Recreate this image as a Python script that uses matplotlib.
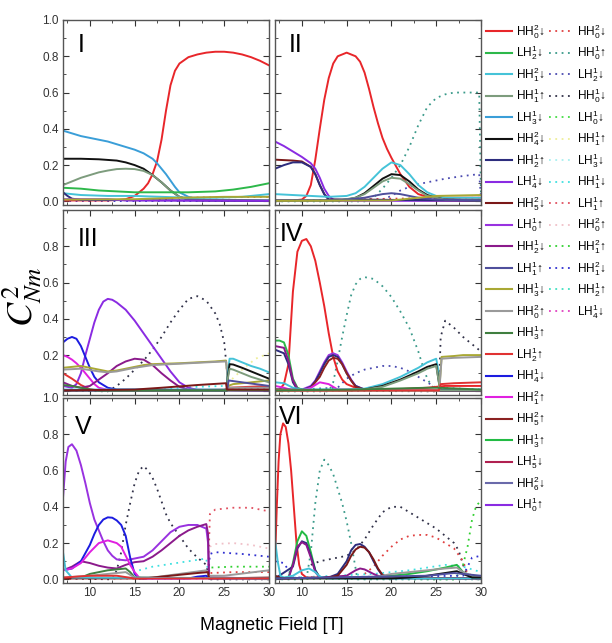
import matplotlib.pyplot as plt
from matplotlib.lines import Line2D

plt.rcParams['font.family'] = ['Liberation Sans', 'DejaVu Sans']
plt.rcParams['mathtext.fontset'] = 'custom'
plt.rcParams['mathtext.rm'] = 'Liberation Sans'
plt.rcParams['mathtext.it'] = 'Liberation Sans:italic'
plt.rcParams['mathtext.bf'] = 'Liberation Sans:bold'

# Legend states, solid column and dotted column.
solid_labels = [
    r'HH$_0^2$↓', r'LH$_2^1$↓', r'HH$_1^2$↓', r'HH$_1^1$↑', r'LH$_3^1$↓',
    r'HH$_4^2$↓', r'HH$_2^1$↑', r'LH$_4^1$↓', r'HH$_5^2$↓', r'LH$_0^1$↑',
    r'HH$_2^1$↓', r'LH$_1^1$↑', r'HH$_3^1$↓', r'HH$_0^2$↑', r'HH$_3^1$↑',
    r'LH$_2^1$↑', r'HH$_4^1$↓', r'HH$_1^2$↑', r'HH$_5^2$↑', r'HH$_3^1$↑',
    r'LH$_5^1$↓', r'HH$_6^2$↓', r'LH$_0^1$↑',
]
solid_colors = [
    '#e8262a', '#2db84a', '#45c3d8', '#7d9c7d', '#3a9ed8',
    '#111111', '#2d2d7e', '#8a2be2', '#7a1818', '#9932e0',
    '#8b1a8b', '#4f4f9c', '#a9a834', '#9a9a9a', '#3f7f3f',
    '#e03232', '#1c1ce0', '#e020e0', '#8b2222', '#22bb44',
    '#b02050', '#6a6aaa', '#8a2be2',
]
dotted_labels = [
    r'HH$_0^2$↓', r'HH$_0^1$↑', r'LH$_2^1$↓', r'HH$_0^1$↓', r'LH$_0^1$↓',
    r'HH$_1^1$↑', r'LH$_3^1$↓', r'HH$_1^1$↓', r'LH$_1^1$↑', r'HH$_0^2$↑',
    r'HH$_1^2$↑', r'HH$_1^2$↓', r'HH$_2^1$↑', r'LH$_4^1$↓',
]
dotted_colors = [
    '#e04040', '#3a9a8a', '#4a4ab0', '#303048', '#44dd44',
    '#eeee99', '#a8f0f0', '#40e0e0', '#e05060', '#f0c0c8',
    '#30d030', '#3030d0', '#40e0c0', '#e040c0',
]

# Panel curves: {state index: (field [T], C^2_Nm)}
I_solid = {
    0: ([7, 12, 13, 14, 15, 16, 16.5, 17, 17.5, 18, 18.5, 19, 19.5, 20, 21, 22, 23, 24, 25, 26, 27, 28, 29, 30],
        [0.005, 0.005, 0.008, 0.012, 0.03, 0.07, 0.1, 0.15, 0.22, 0.34, 0.5, 0.64, 0.72, 0.76, 0.795, 0.81, 0.82, 0.825, 0.825, 0.82, 0.81, 0.795, 0.775, 0.75]),
    4: ([7, 8, 9, 10, 11, 12, 13, 14, 15, 16, 17, 17.5, 18, 18.5, 19, 19.5, 20, 21, 22, 23, 30],
        [0.39, 0.375, 0.36, 0.35, 0.34, 0.33, 0.315, 0.3, 0.285, 0.265, 0.235, 0.21, 0.18, 0.15, 0.115, 0.08, 0.05, 0.025, 0.012, 0.008, 0.005]),
    5: ([7, 9, 11, 13, 14, 15, 16, 17, 18, 19, 20, 21, 22, 30],
        [0.235, 0.235, 0.232, 0.225, 0.215, 0.2, 0.18, 0.145, 0.105, 0.06, 0.025, 0.012, 0.006, 0.003]),
    3: ([7, 8, 9, 10, 11, 12, 13, 14, 15, 16, 17, 18, 19, 20, 21, 30],
        [0.09, 0.11, 0.13, 0.145, 0.16, 0.17, 0.178, 0.18, 0.178, 0.168, 0.145, 0.105, 0.06, 0.025, 0.01, 0.004]),
    1: ([7, 9, 11, 13, 15, 18, 21, 24, 26, 28, 30],
        [0.075, 0.07, 0.06, 0.055, 0.05, 0.05, 0.05, 0.055, 0.065, 0.08, 0.1]),
    2: ([7, 9, 12, 15, 18, 21, 24, 27, 30],
        [0.045, 0.035, 0.03, 0.03, 0.025, 0.02, 0.02, 0.025, 0.04]),
    6: ([7, 7.5, 8, 9, 30], [0.05, 0.03, 0.015, 0.008, 0.003]),
    7: ([7, 12, 14, 30], [0.012, 0.012, 0.005, 0.003]),
    12: ([7, 15, 20, 25, 30], [0.01, 0.012, 0.02, 0.025, 0.025]),
}
I_dotted = {
    0: ([17, 20, 30], [0.005, 0.02, 0.025]),
    11: ([7, 30], [0.003, 0.003]),
}

II_solid = {
    0: ([7, 9, 10, 10.5, 11, 11.5, 12, 12.5, 13, 13.5, 14, 15, 16, 16.5, 17, 17.5, 18, 18.5, 19, 19.5, 20, 21, 22, 23, 24, 26, 30],
        [0.005, 0.005, 0.01, 0.03, 0.09, 0.23, 0.4, 0.56, 0.68, 0.76, 0.8, 0.82, 0.8, 0.77, 0.71, 0.62, 0.52, 0.43, 0.35, 0.29, 0.24, 0.15, 0.08, 0.04, 0.025, 0.02, 0.02]),
    7: ([7, 8, 9, 10, 11, 11.5, 12, 12.5, 13, 13.5, 14, 30],
        [0.33, 0.305, 0.275, 0.245, 0.21, 0.18, 0.13, 0.07, 0.03, 0.01, 0.003, 0.003]),
    8: ([7, 9, 10, 11, 11.5, 12, 12.5, 13, 30],
        [0.23, 0.225, 0.22, 0.19, 0.15, 0.09, 0.04, 0.01, 0.005]),
    6: ([7, 8, 9, 10, 11, 11.5, 12, 12.5, 13, 30],
        [0.18, 0.2, 0.215, 0.215, 0.19, 0.15, 0.09, 0.04, 0.01, 0.005]),
    2: ([7, 9, 11, 13, 15, 16, 17, 18, 19, 20, 21, 22, 23, 24, 25, 26, 30],
        [0.04, 0.035, 0.03, 0.025, 0.03, 0.045, 0.08, 0.13, 0.18, 0.215, 0.2, 0.15, 0.09, 0.05, 0.03, 0.02, 0.02]),
    5: ([7, 14, 15, 16, 17, 18, 19, 20, 21, 22, 23, 24, 25, 26, 30],
        [0.005, 0.005, 0.01, 0.02, 0.045, 0.085, 0.125, 0.15, 0.145, 0.11, 0.065, 0.035, 0.02, 0.01, 0.005]),
    3: ([7, 14, 16, 17, 18, 19, 20, 21, 22, 23, 24, 26, 30],
        [0.005, 0.005, 0.02, 0.04, 0.075, 0.11, 0.13, 0.125, 0.095, 0.06, 0.03, 0.01, 0.005]),
    11: ([7, 14, 17, 19, 20, 21, 23, 25, 30],
         [0.005, 0.005, 0.02, 0.04, 0.045, 0.04, 0.02, 0.01, 0.005]),
    12: ([7, 20, 23, 25, 30], [0.003, 0.005, 0.02, 0.03, 0.035]),
}
II_dotted = {
    1: ([7, 17, 18, 19, 20, 21, 22, 23, 24, 25, 26, 27, 28, 29, 29.8, 30],
        [0.0, 0.0, 0.02, 0.07, 0.13, 0.2, 0.3, 0.42, 0.52, 0.57, 0.59, 0.6, 0.6, 0.6, 0.6, 0.02]),
    2: ([7, 19, 20, 21, 22, 23, 24, 26, 28, 29.8, 30],
        [0.003, 0.01, 0.03, 0.06, 0.08, 0.095, 0.105, 0.125, 0.14, 0.15, 0.02]),
    0: ([12, 20, 30], [0.005, 0.015, 0.02]),
}

III_solid = {
    7: ([7, 8, 8.5, 9, 9.5, 10, 10.5, 11, 11.5, 12, 12.5, 13, 14, 15, 16, 17, 18, 19, 20, 21, 22, 30],
        [0.03, 0.02, 0.04, 0.1, 0.2, 0.29, 0.38, 0.45, 0.495, 0.51, 0.505, 0.49, 0.45, 0.39, 0.32, 0.25, 0.18, 0.11, 0.05, 0.02, 0.008, 0.005]),
    16: ([7, 7.5, 8, 8.5, 9, 9.5, 10, 10.5, 11, 12, 13, 30],
         [0.27, 0.29, 0.3, 0.29, 0.25, 0.19, 0.13, 0.08, 0.05, 0.02, 0.01, 0.005]),
    17: ([7, 7.5, 8, 8.5, 9, 9.5, 10, 10.5, 11, 12, 30],
         [0.2, 0.19, 0.175, 0.155, 0.13, 0.1, 0.07, 0.04, 0.02, 0.008, 0.005]),
    15: ([7, 8, 9, 10, 11, 20, 25, 25.5, 30],
         [0.1, 0.07, 0.035, 0.012, 0.005, 0.005, 0.01, 0.02, 0.03]),
    10: ([7, 8, 9, 10, 11, 12, 13, 14, 15, 16, 17, 18, 19, 20, 21, 30],
         [0.05, 0.03, 0.02, 0.03, 0.065, 0.1, 0.14, 0.165, 0.18, 0.175, 0.145, 0.1, 0.06, 0.025, 0.01, 0.005]),
    12: ([7, 8, 9, 10, 11, 12, 13, 14, 15, 16, 17, 18, 20, 22, 24, 25.2, 25.3, 25.4, 26, 28, 30],
         [0.13, 0.135, 0.14, 0.13, 0.12, 0.11, 0.115, 0.125, 0.135, 0.145, 0.15, 0.152, 0.155, 0.16, 0.165, 0.17, 0.12, 0.03, 0.04, 0.05, 0.06]),
    13: ([7, 9, 11, 12, 13, 15, 17, 19, 21, 23, 25.2, 25.3, 25.4, 30],
         [0.12, 0.125, 0.11, 0.105, 0.11, 0.13, 0.145, 0.15, 0.155, 0.16, 0.165, 0.12, 0.02, 0.02]),
    2: ([7, 24, 25.3, 25.4, 25.6, 26, 27, 28, 29, 30],
        [0.01, 0.01, 0.01, 0.1, 0.18, 0.18, 0.16, 0.14, 0.125, 0.105]),
    5: ([7, 25.3, 25.4, 25.6, 26, 27, 28, 29, 30],
        [0.005, 0.005, 0.08, 0.15, 0.148, 0.13, 0.11, 0.09, 0.07]),
    3: ([7, 25.3, 25.4, 25.6, 26, 27, 28, 29, 30],
        [0.005, 0.005, 0.07, 0.125, 0.12, 0.1, 0.08, 0.065, 0.05]),
    11: ([7, 25.3, 25.5, 27, 30], [0.005, 0.005, 0.06, 0.05, 0.03]),
    14: ([7, 8, 9, 10, 11, 30], [0.035, 0.03, 0.02, 0.01, 0.005, 0.005]),
    8: ([7, 15, 18, 22, 25.2, 25.3, 30], [0.005, 0.01, 0.02, 0.035, 0.045, 0.01, 0.01]),
}
III_dotted = {
    3: ([7, 12, 13, 14, 15, 16, 17, 18, 19, 20, 21, 22, 23, 24, 24.5, 25, 25.3, 25.5, 30],
        [0.005, 0.0, 0.03, 0.07, 0.12, 0.17, 0.23, 0.3, 0.38, 0.45, 0.51, 0.525, 0.5, 0.43, 0.37, 0.27, 0.12, 0.01, 0.01]),
    5: ([7, 25.3, 25.5, 27, 28.5, 30], [0.005, 0.005, 0.05, 0.12, 0.18, 0.21]),
    7: ([7, 18, 20, 22, 25, 25.3, 30], [0.005, 0.01, 0.02, 0.025, 0.03, 0.01, 0.01]),
}

IV_solid = {
    0: ([7, 7.5, 8, 8.5, 9, 9.5, 10, 10.5, 11, 11.5, 12, 12.5, 13, 13.5, 14, 14.5, 15, 16, 17, 20, 22, 24, 26, 30],
        [0.01, 0.01, 0.04, 0.15, 0.55, 0.77, 0.83, 0.84, 0.8, 0.72, 0.6, 0.47, 0.32, 0.19, 0.11, 0.065, 0.04, 0.02, 0.01, 0.01, 0.015, 0.02, 0.03, 0.03]),
    9: ([7, 9, 10, 11, 11.5, 12, 12.5, 13, 13.5, 14, 14.5, 15, 15.5, 16, 17, 30],
        [0.01, 0.01, 0.01, 0.03, 0.06, 0.11, 0.16, 0.2, 0.21, 0.2, 0.16, 0.11, 0.065, 0.03, 0.01, 0.005]),
    6: ([7, 8, 8.5, 9, 9.5, 10, 11, 11.5, 12, 12.5, 13, 13.5, 14, 14.5, 15, 15.5, 16, 17, 30],
        [0.23, 0.21, 0.15, 0.05, 0.01, 0.005, 0.025, 0.055, 0.1, 0.15, 0.19, 0.2, 0.19, 0.15, 0.1, 0.06, 0.03, 0.01, 0.005]),
    18: ([7, 10, 11, 12, 12.5, 13, 13.5, 14, 14.5, 15, 15.5, 16, 17, 30],
         [0.005, 0.005, 0.02, 0.08, 0.13, 0.17, 0.185, 0.18, 0.15, 0.1, 0.06, 0.025, 0.01, 0.005]),
    1: ([7, 7.5, 8, 8.5, 9, 9.5, 10, 30], [0.28, 0.28, 0.27, 0.2, 0.07, 0.02, 0.01, 0.005]),
    10: ([7, 8, 8.5, 9, 9.5, 10, 30], [0.25, 0.24, 0.17, 0.06, 0.015, 0.005, 0.005]),
    17: ([7, 8, 9, 10, 11, 12, 13, 14, 30], [0.03, 0.02, 0.005, 0.005, 0.02, 0.05, 0.04, 0.01, 0.005]),
    2: ([7, 8, 9, 10, 15, 17, 19, 21, 23, 24, 25, 25.3, 25.4, 30],
        [0.05, 0.045, 0.02, 0.01, 0.01, 0.015, 0.04, 0.08, 0.13, 0.16, 0.18, 0.1, 0.01, 0.01]),
    5: ([7, 15, 17, 19, 21, 23, 24, 25, 25.3, 25.4, 30],
        [0.01, 0.005, 0.01, 0.03, 0.065, 0.11, 0.135, 0.15, 0.05, 0.005, 0.005]),
    3: ([7, 15, 17, 19, 21, 23, 24, 25, 25.3, 25.4, 30],
        [0.01, 0.005, 0.01, 0.025, 0.06, 0.1, 0.125, 0.14, 0.05, 0.005, 0.005]),
    12: ([7, 25.3, 25.4, 25.6, 27, 28, 30], [0.005, 0.005, 0.05, 0.19, 0.195, 0.2, 0.2]),
    13: ([7, 25.3, 25.4, 25.6, 27, 30], [0.005, 0.005, 0.04, 0.18, 0.185, 0.19]),
    15: ([7, 25.3, 25.5, 27, 30], [0.005, 0.005, 0.04, 0.045, 0.05]),
    14: ([7, 16, 20, 24, 25.3, 30], [0.005, 0.01, 0.015, 0.02, 0.02, 0.01]),
}
IV_dotted = {
    1: ([7, 13, 13.5, 14, 14.5, 15, 15.5, 16, 16.5, 17, 18, 19, 20, 21, 22, 23, 23.5, 24, 24.5, 25, 30],
        [0.0, 0.0, 0.05, 0.17, 0.3, 0.42, 0.53, 0.59, 0.62, 0.63, 0.62, 0.58, 0.52, 0.44, 0.35, 0.22, 0.14, 0.07, 0.03, 0.01, 0.005]),
    2: ([7, 14, 15, 16, 17, 18, 19, 20, 21, 22, 23, 24, 25, 30],
        [0.005, 0.02, 0.07, 0.1, 0.12, 0.13, 0.14, 0.14, 0.13, 0.11, 0.08, 0.05, 0.02, 0.01]),
    3: ([7, 25.3, 25.5, 26, 27, 28, 29, 30], [0.005, 0.0, 0.3, 0.39, 0.35, 0.3, 0.26, 0.22]),
}

V_solid = {
    9: ([7, 7.3, 7.6, 8, 8.5, 9, 9.5, 10, 10.5, 11, 11.5, 12, 12.5, 13, 14, 15, 16, 17, 18, 19, 20, 21, 22, 23, 23.2, 23.3, 30],
        [0.45, 0.65, 0.73, 0.745, 0.71, 0.63, 0.53, 0.42, 0.33, 0.27, 0.21, 0.16, 0.13, 0.11, 0.105, 0.115, 0.125, 0.16, 0.21, 0.26, 0.29, 0.3, 0.3, 0.28, 0.2, 0.01, 0.005]),
    10: ([7, 8, 9, 10, 11, 12, 13, 14, 15, 16, 17, 18, 19, 20, 21, 22, 23, 23.2, 23.3, 30],
         [0.05, 0.07, 0.1, 0.09, 0.075, 0.065, 0.06, 0.08, 0.095, 0.1, 0.125, 0.16, 0.2, 0.24, 0.27, 0.29, 0.305, 0.25, 0.01, 0.005]),
    16: ([7, 8, 9, 10, 10.5, 11, 11.5, 12, 12.5, 13, 13.5, 14, 14.5, 15, 15.5, 21, 22, 23, 23.3, 30],
         [0.05, 0.06, 0.1, 0.19, 0.25, 0.3, 0.33, 0.342, 0.34, 0.325, 0.3, 0.24, 0.12, 0.03, 0.005, 0.005, 0.015, 0.02, 0.005, 0.005]),
    17: ([7, 8, 9, 10, 11, 12, 13, 13.5, 14, 14.5, 15, 15.5, 16, 30],
         [0.05, 0.06, 0.09, 0.15, 0.2, 0.215, 0.2, 0.18, 0.13, 0.08, 0.04, 0.01, 0.005, 0.005]),
    14: ([7, 9, 10, 11, 12, 13, 14, 14.5, 15, 30],
         [0.005, 0.01, 0.03, 0.04, 0.05, 0.055, 0.06, 0.04, 0.01, 0.005]),
    13: ([7, 10, 12, 14, 15, 17, 20, 23, 23.3, 25, 30],
         [0.01, 0.02, 0.03, 0.04, 0.01, 0.01, 0.03, 0.05, 0.02, 0.02, 0.05]),
    8: ([7, 16, 18, 20, 22, 23.2, 23.3, 30],
        [0.005, 0.005, 0.015, 0.025, 0.035, 0.04, 0.005, 0.01]),
    2: ([7, 7.3, 8, 30], [0.15, 0.05, 0.01, 0.005]),
    15: ([7, 10, 13, 15, 30], [0.01, 0.02, 0.02, 0.005, 0.005]),
}
V_dotted = {
    3: ([7, 12.5, 13, 13.5, 14, 14.5, 15, 15.5, 16, 16.5, 17, 17.5, 18, 18.5, 19, 20, 21, 22, 23, 23.3, 30],
        [0.005, 0.0, 0.05, 0.15, 0.3, 0.42, 0.53, 0.6, 0.625, 0.6, 0.56, 0.5, 0.43, 0.36, 0.31, 0.24, 0.17, 0.12, 0.08, 0.0, 0.0]),
    7: ([15.5, 17, 19, 21, 23, 23.3], [0.05, 0.07, 0.085, 0.1, 0.115, 0.0]),
    8: ([7, 23.2, 23.4, 24, 26, 28, 30], [0.005, 0.005, 0.36, 0.385, 0.395, 0.395, 0.375]),
    9: ([23.2, 23.4, 24, 26, 28, 30], [0.005, 0.18, 0.195, 0.2, 0.19, 0.17]),
    11: ([23.2, 23.4, 24, 27, 30], [0.005, 0.14, 0.15, 0.14, 0.125]),
    10: ([23.2, 23.4, 26, 30], [0.005, 0.065, 0.07, 0.07]),
    0: ([23.2, 23.4, 26, 30], [0.005, 0.035, 0.04, 0.04]),
}

VI_solid = {
    0: ([7, 7.2, 7.4, 7.6, 7.9, 8.2, 8.5, 8.8, 9.1, 9.4, 9.7, 10, 10.5, 30],
        [0.1, 0.4, 0.65, 0.8, 0.86, 0.84, 0.75, 0.6, 0.4, 0.2, 0.08, 0.03, 0.01, 0.005]),
    19: ([7, 8.5, 9, 9.5, 10, 10.5, 11, 11.5, 12, 18, 20, 22, 24, 26, 27.3, 28, 29, 30],
         [0.005, 0.01, 0.09, 0.21, 0.265, 0.24, 0.15, 0.05, 0.01, 0.01, 0.02, 0.03, 0.045, 0.065, 0.08, 0.04, 0.015, 0.01]),
    6: ([7, 9, 9.5, 10, 10.5, 11, 11.5, 12, 13, 14, 15, 15.5, 16, 16.5, 17, 17.5, 18, 18.5, 19, 20, 30],
        [0.005, 0.07, 0.17, 0.21, 0.2, 0.13, 0.05, 0.01, 0.01, 0.03, 0.1, 0.16, 0.19, 0.195, 0.18, 0.15, 0.1, 0.055, 0.02, 0.005, 0.005]),
    10: ([7, 8.5, 9, 9.5, 10, 10.5, 11, 11.5, 12, 15, 16, 16.5, 17, 18, 19, 30],
         [0.005, 0.005, 0.08, 0.18, 0.205, 0.19, 0.12, 0.04, 0.01, 0.02, 0.05, 0.06, 0.055, 0.03, 0.01, 0.005]),
    8: ([7, 8, 13, 14, 15, 15.5, 16, 16.5, 17, 17.5, 18, 18.5, 19, 20, 30],
        [0.02, 0.005, 0.01, 0.02, 0.08, 0.13, 0.165, 0.18, 0.175, 0.15, 0.11, 0.06, 0.025, 0.008, 0.005]),
    2: ([7, 7.3, 7.6, 8, 9, 10, 10.8, 11.5, 12, 13, 30],
        [0.22, 0.1, 0.02, 0.01, 0.02, 0.05, 0.06, 0.04, 0.015, 0.005, 0.005]),
    13: ([7, 18, 20, 22, 24, 26, 27.3, 28, 29, 30],
         [0.005, 0.01, 0.03, 0.04, 0.05, 0.06, 0.065, 0.04, 0.02, 0.015]),
    5: ([7, 20, 22, 24, 26, 27.3, 28, 29, 30],
        [0.005, 0.005, 0.01, 0.02, 0.035, 0.045, 0.03, 0.01, 0.01]),
    11: ([7, 24, 27, 28, 30], [0.005, 0.02, 0.035, 0.03, 0.02]),
}
VI_dotted = {
    1: ([7, 10.5, 11, 11.5, 12, 12.5, 13, 13.5, 14, 14.5, 15, 15.5, 16, 16.2, 30],
        [0.0, 0.0, 0.15, 0.42, 0.6, 0.66, 0.63, 0.58, 0.5, 0.42, 0.32, 0.2, 0.06, 0.0, 0.0]),
    3: ([11, 12, 13, 14, 15, 16, 17, 18, 19, 20, 21, 22, 23, 24, 25, 26, 27, 27.5, 28, 28.5, 30],
        [0.08, 0.1, 0.11, 0.12, 0.13, 0.16, 0.22, 0.3, 0.37, 0.4, 0.4, 0.37, 0.34, 0.31, 0.28, 0.24, 0.2, 0.16, 0.08, 0.02, 0.01]),
    0: ([17, 18, 19, 20, 21, 22, 23, 24, 25, 26, 27, 28, 28.5, 30],
        [0.03, 0.07, 0.13, 0.18, 0.22, 0.24, 0.245, 0.245, 0.23, 0.2, 0.17, 0.1, 0.03, 0.01]),
    10: ([7, 27, 27.5, 28, 28.5, 29, 29.5, 30], [0.005, 0.0, 0.03, 0.08, 0.18, 0.33, 0.41, 0.43]),
    11: ([7, 8, 9, 28, 29, 30], [0.1, 0.09, 0.01, 0.02, 0.12, 0.13]),
    7: ([7, 18, 22, 26, 28, 30], [0.005, 0.03, 0.05, 0.08, 0.07, 0.04]),
}

panel_names = ['I', 'II', 'III', 'IV', 'V', 'VI']
panel_solid = [I_solid, II_solid, III_solid, IV_solid, V_solid, VI_solid]
panel_dotted = [I_dotted, II_dotted, III_dotted, IV_dotted, V_dotted, VI_dotted]

W, H = 612, 643
fig = plt.figure(figsize=(W / 100, H / 100), dpi=100)

col_left = [63, 275]
row_top = [20, 210, 398]
pw, ph = 206, 185
name_pos = [(0.07, 0.93), (0.065, 0.93), (0.07, 0.91), (0.025, 0.935), (0.06, 0.91), (0.02, 0.96)]

for k, name in enumerate(panel_names):
    r, c = divmod(k, 2)
    ax = fig.add_axes([col_left[c] / W, 1 - (row_top[r] + ph) / H, pw / W, ph / H])

    for idx, (x, y) in panel_dotted[k].items():
        ax.plot(x, y, color=dotted_colors[idx], lw=1.3, linestyle=(0, (1, 2.5)))
    for idx, (x, y) in panel_solid[k].items():
        ax.plot(x, y, color=solid_colors[idx], lw=1.4)

    ax.set_xlim(7, 30)
    ax.set_ylim(-0.02, 1.0)
    ax.set_xticks([10, 15, 20, 25, 30])
    ax.set_xticks([7.5, 12.5, 17.5, 22.5, 27.5], minor=True)
    ax.set_yticks([0.0, 0.2, 0.4, 0.6, 0.8, 1.0])
    ax.set_yticks([0.1, 0.3, 0.5, 0.7, 0.9], minor=True)
    ax.tick_params(which='both', direction='in', top=True, right=True,
                   labelsize=8.5, colors='#333333', pad=3)
    ax.tick_params(which='major', length=4, width=0.8)
    ax.tick_params(which='minor', length=2, width=0.6)
    for sp in ax.spines.values():
        sp.set_color('#555555')
        sp.set_linewidth(1.0)

    if c == 1:
        ax.tick_params(labelleft=False)
    else:
        ax.set_yticklabels(['0.0', '0.2', '0.4', '0.6', '0.8', '1.0'])
        if r == 1:
            ax.set_yticklabels(['', '0.2', '0.4', '0.6', '0.8', ''])
    if r < 2:
        ax.tick_params(labelbottom=False)

    ax.text(name_pos[k][0], name_pos[k][1], name, transform=ax.transAxes,
            fontsize=18, va='top', ha='left', color='black')

fig.text(272 / W, 1 - 625 / H, 'Magnetic Field [T]', ha='center', va='center', fontsize=13)
fig.text(22 / W, 1 - 297 / H, r'$C^2_{Nm}$', rotation=90, ha='center', va='center',
         fontsize=26, math_fontfamily='stix')

solid_handles = [Line2D([], [], color=c, lw=1.5) for c in solid_colors]
dotted_handles = [Line2D([], [], color=c, lw=1.3, linestyle=(0, (1, 2.5))) for c in dotted_colors]
leg_kw = dict(loc='upper left', frameon=False, fontsize=8.5, handletextpad=0.3,
              labelspacing=0.24, borderpad=0, borderaxespad=0)
fig.legend(solid_handles, solid_labels, bbox_to_anchor=(486 / W, 1 - 22 / H),
           handlelength=2.2, **leg_kw)
fig.legend(dotted_handles, dotted_labels, bbox_to_anchor=(549 / W, 1 - 22 / H),
           handlelength=2.1, **leg_kw)

fig.savefig('out.png', dpi=100)
